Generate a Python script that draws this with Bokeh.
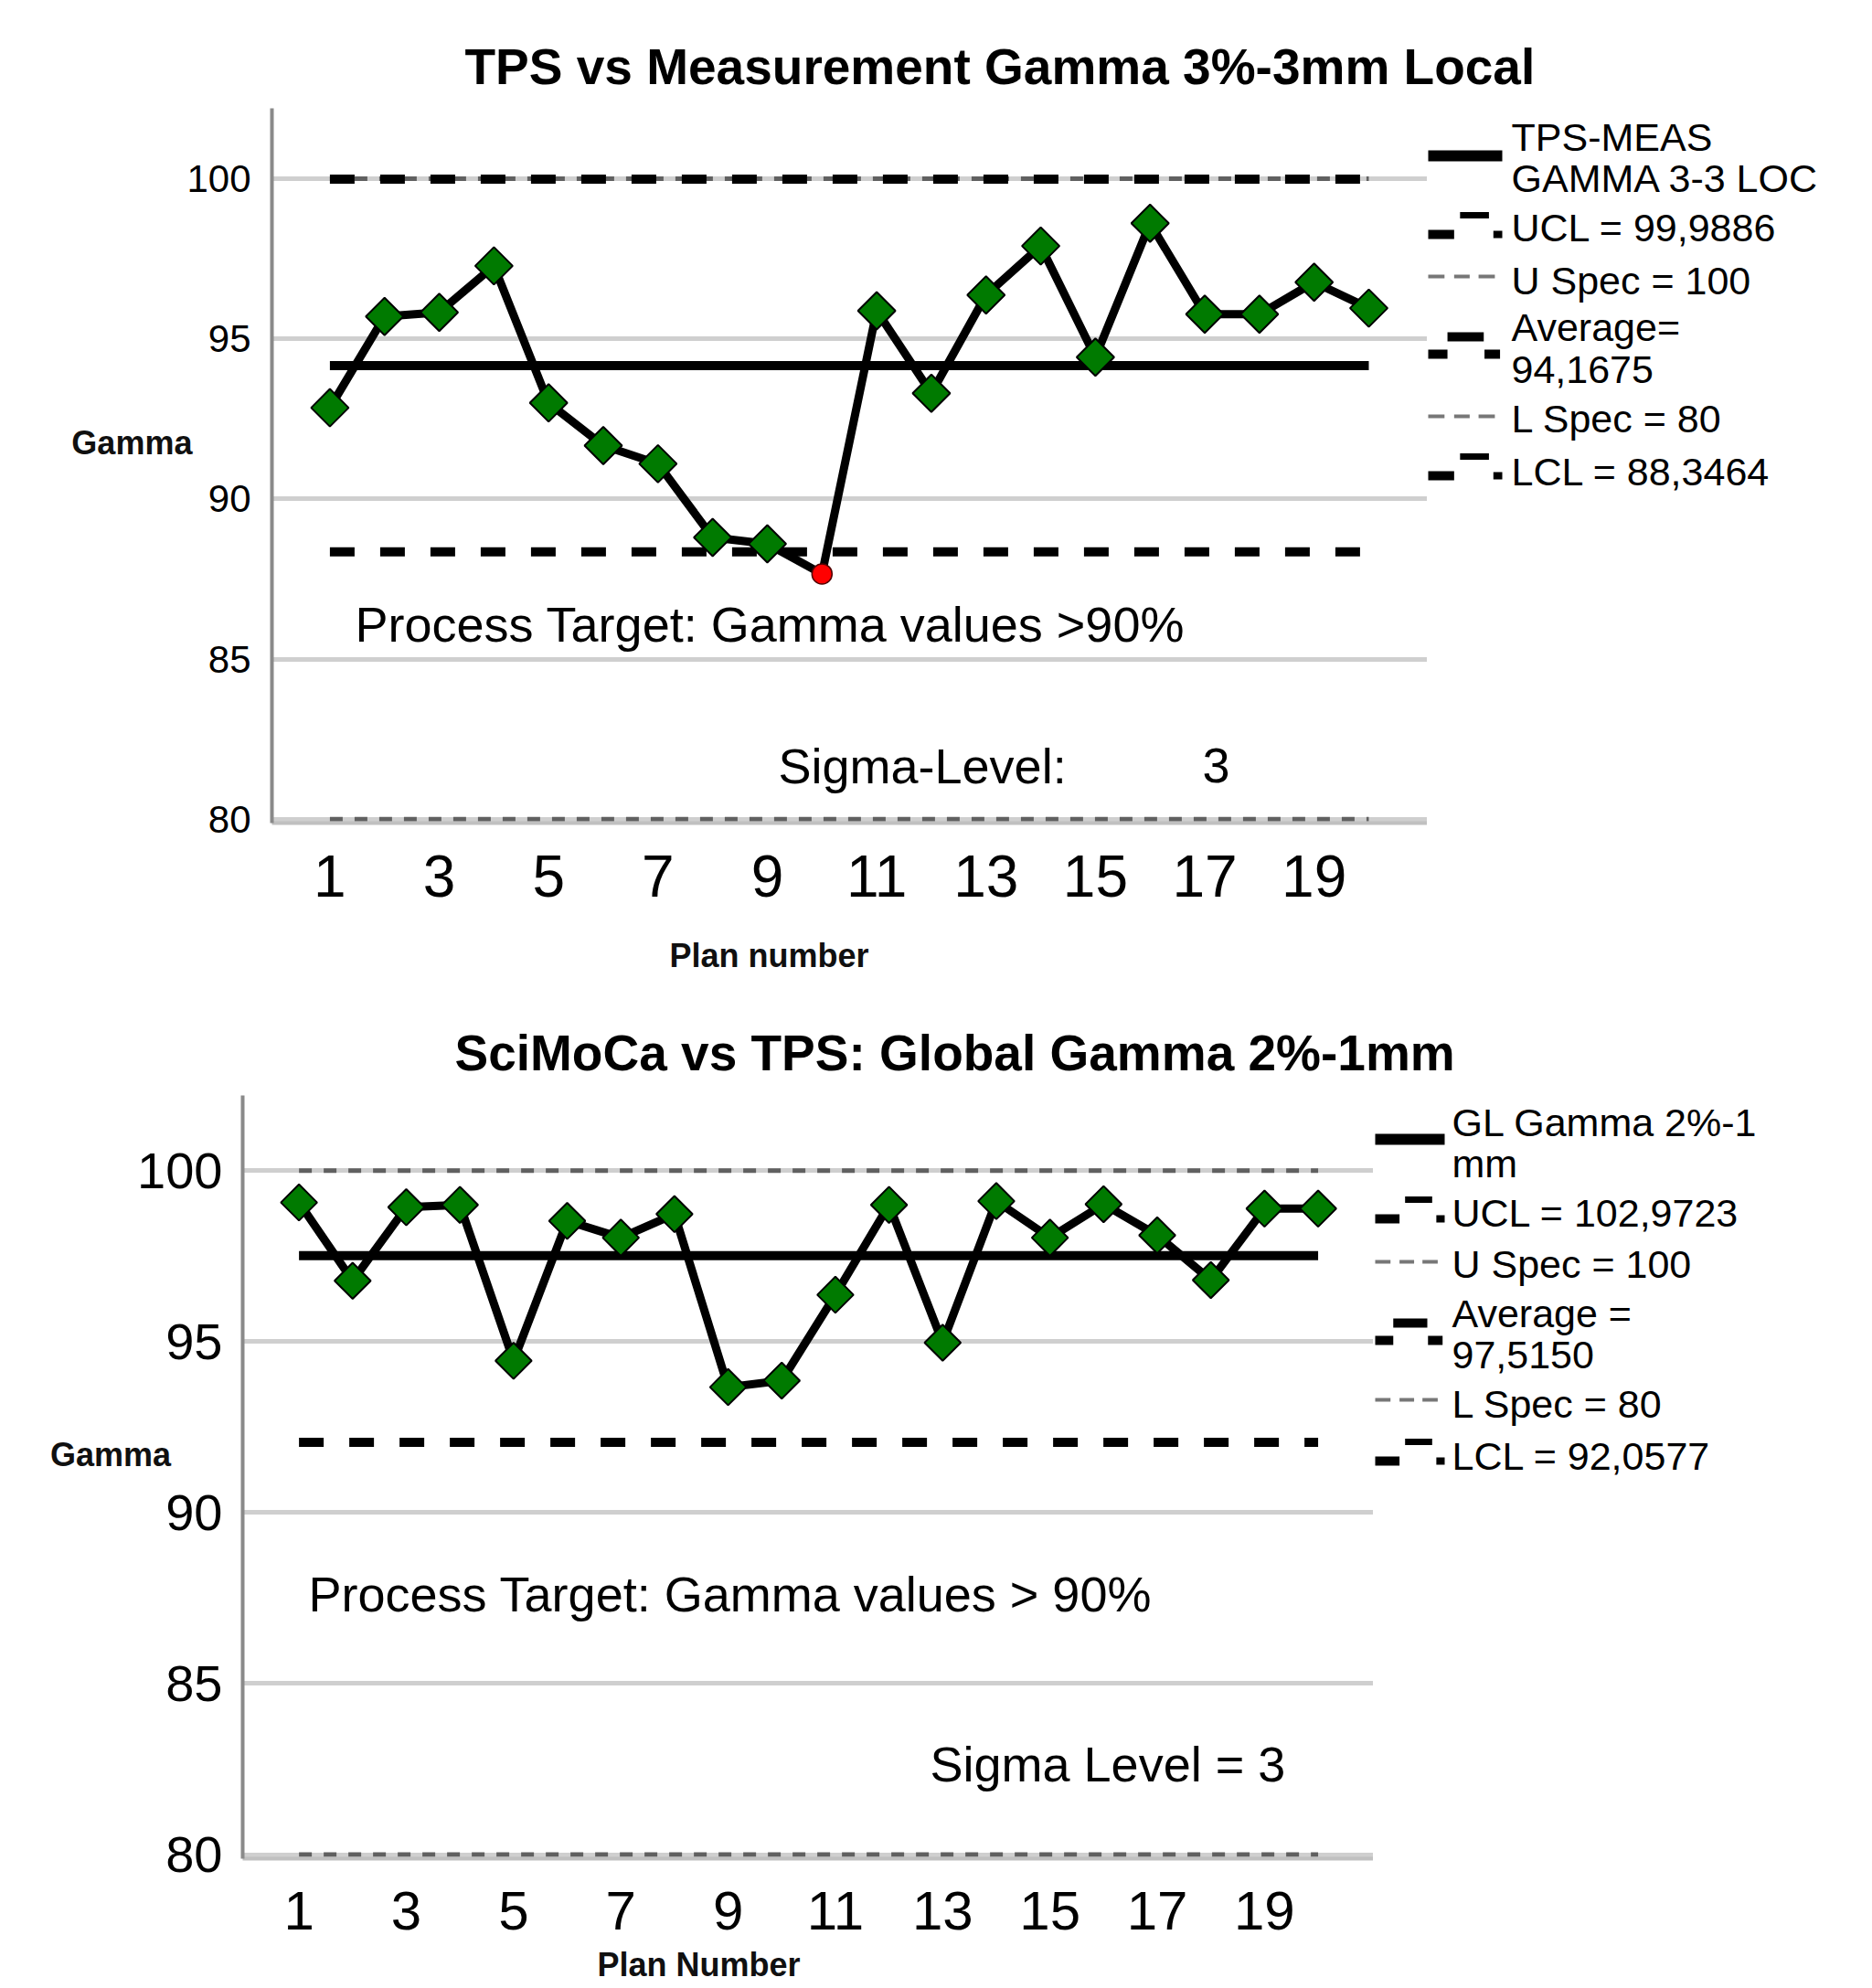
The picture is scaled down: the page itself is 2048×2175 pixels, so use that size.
import numpy as np
from bokeh.plotting import figure
from bokeh.models import Range1d, FixedTicker, Label
from bokeh.layouts import row, column
from bokeh.embed import file_html
from bokeh.resources import INLINE
from bokeh.core.properties import value

FONT = "Liberation Sans"

# ---------------- data ----------------
PLANS = list(range(1, 21))
X_TICKS = [1, 3, 5, 7, 9, 11, 13, 15, 17, 19]
Y_TICKS = [80, 85, 90, 95, 100]

# Chart 1: TPS vs Measurement, local gamma 3%/3mm
GAMMA_LOCAL = [92.85, 95.70, 95.83, 97.28, 93.00, 91.67, 91.10, 88.80, 88.60, 87.66,
               95.88, 93.30, 96.37, 97.90, 94.43, 98.61, 95.77, 95.77, 96.77, 95.96]
UCL_1 = 99.9886
USPEC_1 = 100
AVG_1 = 94.1675
LSPEC_1 = 80
LCL_1 = 88.3464
SIGMA_1 = 3

# Chart 2: SciMoCa vs TPS, global gamma 2%/1mm
GAMMA_GLOBAL = [99.07, 96.78, 98.93, 99.00, 94.44, 98.53, 98.04, 98.73, 93.67, 93.86,
                96.37, 99.00, 94.97, 99.11, 98.04, 99.02, 98.11, 96.80, 98.89, 98.89]
UCL_2 = 102.9723
USPEC_2 = 100
AVG_2 = 97.5150
LSPEC_2 = 80
LCL_2 = 92.0577
SIGMA_2 = 3

TITLE_1 = "TPS vs Measurement  Gamma 3%-3mm Local"
TITLE_2 = "SciMoCa vs TPS: Global Gamma 2%-1mm"
TARGET_1 = "Process Target: Gamma values >90%"
TARGET_2 = "Process Target: Gamma values > 90%"
YLABEL = "Gamma"
XLABEL_1 = "Plan number"
XLABEL_2 = "Plan Number"

LEGEND_1 = [["TPS-MEAS", "GAMMA 3-3 LOC"], ["UCL = 99,9886"], ["U Spec = 100"],
            ["Average=", "94,1675"], ["L Spec = 80"], ["LCL = 88,3464"]]
LEGEND_2 = [["GL Gamma 2%-1", "mm"], ["UCL = 102,9723"], ["U Spec = 100"],
            ["Average =", "97,5150"], ["L Spec = 80"], ["LCL = 92,0577"]]
LEGEND_STYLES = ["series", "ctrl", "spec", "avg", "spec", "ctrl"]

GREEN = "#007a00"
SPEC_GRAY = "#606060"
MID = 0.35  # em fraction between alphabetic baseline and text middle


def try_set(obj, name, val):
    try:
        setattr(obj, name, val)
        return True
    except Exception:
        return False


def blank_fig(x0, y0, w, h, yr=None):
    """A figure whose data space is page pixels (y downwards)."""
    if yr is None:
        yr = (y0 + h, y0)
    return figure(width=w, height=h, x_range=Range1d(x0, x0 + w), y_range=Range1d(*yr),
                  x_axis_type=None, y_axis_type=None, min_border=0,
                  output_backend="svg", toolbar_location=None,
                  outline_line_color=None, title=None)


def add_texts(f, items):
    for txt, px, base, size, style, color in items:
        f.text(x=[px], y=[base - MID * size], text=[txt], text_font=value(FONT),
               text_font_size=f"{size}px", text_font_style=style, text_color=color,
               text_align="left", text_baseline="middle")


def build_chart(g, values, ucl, uspec, avg, lspec, lcl, texts):
    fx, fy, fw, fh = g["fig"]
    l, t, r, b = g["frame"]
    xr, yr = g["xr"], g["yr"]
    p = figure(width=fw, height=fh, x_range=Range1d(*xr), y_range=Range1d(*yr),
               min_border_left=l - fx, min_border_right=fx + fw - r,
               min_border_top=t - fy, min_border_bottom=fy + fh - b,
               output_backend="svg", toolbar_location=None,
               outline_line_color=None, title=None)

    def dx(px):
        return xr[0] + (px - l) / (r - l) * (xr[1] - xr[0])

    def dy(py):
        return yr[1] - (py - t) / (b - t) * (yr[1] - yr[0])

    # grid
    p.xgrid.visible = False
    p.ygrid.ticker = FixedTicker(ticks=Y_TICKS)
    p.ygrid.grid_line_color = "#cfcfcf"
    p.ygrid.grid_line_width = 5

    # axes
    p.xaxis.ticker = FixedTicker(ticks=X_TICKS)
    p.yaxis.ticker = FixedTicker(ticks=Y_TICKS)
    for ax in (p.xaxis, p.yaxis):
        ax.major_tick_line_color = None
        ax.minor_tick_line_color = None
        ax.major_tick_out = 0
        ax.major_tick_in = 0
        ax.major_label_text_font = FONT
        ax.major_label_text_color = "black"
    p.xaxis.axis_line_color = "#c0c0c0"
    p.xaxis.axis_line_width = 4
    p.xaxis.major_label_text_font_size = f"{g['xtick_px']}px"
    p.xaxis.major_label_standoff = g["xstand"]
    p.yaxis.axis_line_color = "#8a8a8a"
    p.yaxis.axis_line_width = 4
    p.yaxis.major_label_text_font_size = f"{g['ytick_px']}px"
    p.yaxis.major_label_standoff = g["ystand"]

    # y axis label (horizontal, sitting a little above the frame's middle)
    ya = p.yaxis[0]
    ya.axis_label = YLABEL + "\n "
    ya.axis_label_text_font = FONT
    ya.axis_label_text_font_size = "36px"
    ya.axis_label_text_font_style = "bold"
    ya.axis_label_text_color = "#101010"
    try_set(ya, "axis_label_orientation", "horizontal")
    if not try_set(ya, "axis_label_standoff", g["ylab_stand"]):
        ya.axis_label_standoff = 0

    ends = [PLANS[0], PLANS[-1]]
    # spec limits (gray, fine dashes)
    for v in (uspec, lspec):
        p.line(ends, [v, v], line_color=SPEC_GRAY, line_width=5, line_dash="14 13")
    # control limits (black blocks)
    for v in (ucl, lcl):
        p.line(ends, [v, v], line_color="black", line_width=10, line_dash="27 28")
    # average
    p.line(ends, [avg, avg], line_color="black", line_width=10)
    # series
    p.line(PLANS, values, line_color="black", line_width=9, line_join="round")
    vals = np.array(values)
    xs = np.array(PLANS)
    ok = vals >= lcl
    p.scatter(xs[ok], vals[ok], marker="square", angle=np.pi / 4, size=g["marker"],
              fill_color=GREEN, line_color="black", line_width=2)
    if (~ok).any():
        p.scatter(xs[~ok], vals[~ok], marker="circle", size=22,
                  fill_color="#ff0000", line_color="#500000", line_width=1.5)

    # in-plot annotations
    for txt, px, base, size, style in texts:
        p.add_layout(Label(x=dx(px), y=dy(base - MID * size), text=txt, text_font=FONT,
                           text_font_size=f"{size}px", text_font_style=style,
                           text_color="black", text_align="left",
                           text_baseline="middle"))
    return p


SHAPES = {
    "series": [(0.0, 1.0, 0, 12, "black")],
    "ctrl": [(0.0, 0.35, 8, 10, "black"), (0.43, 0.82, -13, 7, "black"),
             (0.88, 1.0, 8, 8, "black")],
    "spec": [(0.0, 0.22, 0, 4, "#777777"), (0.35, 0.56, 0, 4, "#777777"),
             (0.68, 0.9, 0, 4, "#777777")],
    "avg": [(0.0, 0.26, 10, 10, "black"), (0.26, 0.75, -9, 10, "black"),
            (0.76, 0.97, 10, 10, "black")],
}


def build_legend(g, frame_tb, labels, styles):
    ox, oy, w, h = g["fig"]
    ft, fb = frame_tb
    # the row aligns this figure's frame with the chart's frame
    f = blank_fig(ox, oy, w, h, yr=(fb, ft))
    sx0, sw = g["sym_x"], g["sym_w"]
    items = []
    for lab, style, anchor, bases in zip(labels, styles, g["anchors"], g["baselines"]):
        for f0, f1, ddy, lw, col in SHAPES[style]:
            f.line([sx0 + f0 * sw, sx0 + f1 * sw], [anchor + ddy, anchor + ddy],
                   line_color=col, line_width=lw, line_cap="butt")
        for line, base in zip(lab, bases):
            items.append((line, g["text_x"], base, g["font_px"], "normal", "black"))
    add_texts(f, items)
    return f


W = 2040
# page rows: title1 | chart1 | xlabel1 + title2 | chart2 | xlabel2
CH1 = dict(fig=(0, 118, 1561, 882), frame=(297, 118, 1561, 900),
           xr=(-0.06, 21.07), yr=(79.88, 102.2),
           ytick_px=42, xtick_px=64, ystand=23, xstand=35, marker=29, ylab_stand=-9)
CH2 = dict(fig=(0, 1198, 1502, 930), frame=(265, 1198, 1502, 2033),
           xr=(-0.05, 21.03), yr=(79.88, 102.2),
           ytick_px=56, xtick_px=60, ystand=22, xstand=36, marker=28, ylab_stand=-40)

TEXTS_1 = [(TARGET_1, 388, 701, 54, "normal"),
           ("Sigma-Level:", 851, 856, 54, "normal"), (str(SIGMA_1), 1315, 856, 54, "normal")]
TEXTS_2 = [(TARGET_2, 337, 1762, 54, "normal"),
           (f"Sigma Level = {SIGMA_2}", 1017, 1948, 54, "normal")]

LG1 = dict(fig=(1561, 118, 479, 882), sym_x=1562, sym_w=81, text_x=1653, font_px=43,
           anchors=[170, 248, 302, 377, 455, 512],
           baselines=[[165, 210], [264], [322], [373, 419], [473], [531]])
LG2 = dict(fig=(1502, 1198, 538, 930), sym_x=1504, sym_w=76, text_x=1588, font_px=43,
           anchors=[1246, 1325, 1380, 1456, 1531, 1590],
           baselines=[[1243, 1288], [1342], [1398], [1452, 1497], [1551], [1608]])

t1 = blank_fig(0, 0, W, 118)
add_texts(t1, [(TITLE_1, 508, 92, 55, "bold", "black")])
t2 = blank_fig(0, 1000, W, 198)
add_texts(t2, [(XLABEL_1, 732, 1058, 36, "bold", "#101010"),
               (TITLE_2, 497, 1171, 55, "bold", "black")])
t3 = blank_fig(0, 2128, W, 44)
add_texts(t3, [(XLABEL_2, 653, 2162, 36, "bold", "#101010")])

p1 = build_chart(CH1, GAMMA_LOCAL, UCL_1, USPEC_1, AVG_1, LSPEC_1, LCL_1, TEXTS_1)
p2 = build_chart(CH2, GAMMA_GLOBAL, UCL_2, USPEC_2, AVG_2, LSPEC_2, LCL_2, TEXTS_2)
l1 = build_legend(LG1, (CH1["frame"][1], CH1["frame"][3]), LEGEND_1, LEGEND_STYLES)
l2 = build_legend(LG2, (CH2["frame"][1], CH2["frame"][3]), LEGEND_2, LEGEND_STYLES)

layout = column(row(t1), row(p1, l1), row(t2), row(p2, l2), row(t3))
open("out.html", "w").write(file_html(layout, INLINE))
